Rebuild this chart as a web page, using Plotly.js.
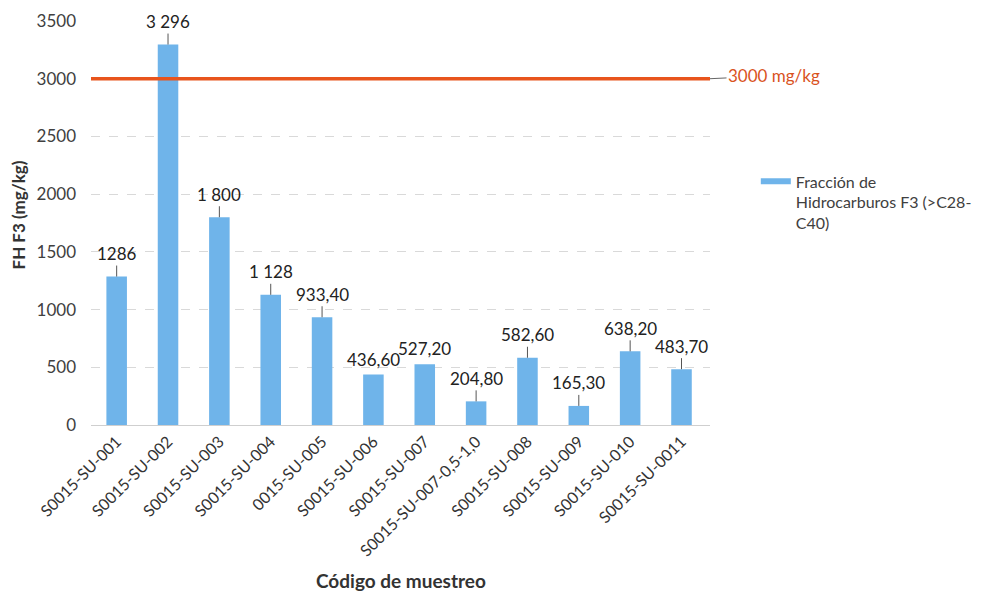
<!DOCTYPE html>
<html>
<head>
<meta charset="utf-8">
<script src="https://cdn.plot.ly/plotly-3.0.1.min.js"></script>
<style>
  html, body { margin: 0; padding: 0; background: #ffffff; }
  #chart { width: 989px; height: 593px; }
</style>
</head>
<body>
<div id="chart"></div>
<script>
const categories = [
  'S0015-SU-001', 'S0015-SU-002', 'S0015-SU-003', 'S0015-SU-004',
  '0015-SU-005', 'S0015-SU-006', 'S0015-SU-007', 'S0015-SU-007-0,5-1,0',
  'S0015-SU-008', 'S0015-SU-009', 'S0015-SU-010', 'S0015-SU-0011'
];
const values = [1286, 3296, 1800, 1128, 933.40, 436.60, 527.20, 204.80, 582.60, 165.30, 638.20, 483.70];
const valueLabels = ['1286', '3 296', '1 800', '1 128', '933,40', '436,60', '527,20', '204,80', '582,60', '165,30', '638,20', '483,70'];
const seriesName = 'Fracción de<br>Hidrocarburos F3 (>C28-<br>C40)';
const limitValue = 3000;
const limitLabel = '3000 mg/kg';
const yTickValues = [0, 500, 1000, 1500, 2000, 2500, 3000, 3500];
const yTitle = 'FH F3 (mg/kg)';
const xTitle = 'Código de muestreo';

const FONT = 'Lato, "Open Sans", sans-serif';
const BAR_COLOR = '#6FB4EA';
const LIMIT_COLOR = '#E8541C';
const unlabeledLeader = new Set([5, 6]);

const bars = {
  type: 'bar',
  x: categories,
  y: values,
  marker: { color: BAR_COLOR },
  showlegend: false,
  hoverinfo: 'x+y'
};

const legendEntry = {
  type: 'scatter',
  mode: 'lines',
  x: [null],
  y: [null],
  name: seriesName,
  line: { color: BAR_COLOR, width: 6 },
  showlegend: true,
  hoverinfo: 'skip'
};

const annotations = categories.map((c, i) => {
  const base = {
    x: c, y: values[i], xref: 'x', yref: 'y',
    text: valueLabels[i],
    font: { family: FONT, size: 17, color: '#222222' }
  };
  if (unlabeledLeader.has(i)) {
    return Object.assign(base, { showarrow: false, yanchor: 'bottom', yshift: 3 });
  }
  return Object.assign(base, {
    showarrow: true, arrowhead: 0, arrowwidth: 1, arrowcolor: '#555555',
    ax: 0, ay: -23, standoff: 0
  });
});

annotations.push({
  xref: 'paper', yref: 'y', x: 1, y: limitValue,
  text: limitLabel,
  showarrow: true, arrowhead: 0, arrowwidth: 1, arrowcolor: '#666666',
  ax: 64, ay: -3,
  font: { family: FONT, size: 17, color: '#D9531E' }
});

annotations.push({
  xref: 'paper', yref: 'paper', x: 0.5, y: -0.385,
  xanchor: 'center', yanchor: 'middle', showarrow: false,
  text: '<b>' + xTitle + '</b>',
  font: { family: FONT, size: 19, color: '#333333' }
});

annotations.push({
  xref: 'paper', yref: 'paper', x: -0.117, y: 0.52,
  xanchor: 'center', yanchor: 'middle', showarrow: false, textangle: -90,
  text: '<b>' + yTitle + '</b>',
  font: { family: FONT, size: 17, color: '#333333' }
});

const layout = {
  width: 989,
  height: 593,
  margin: { l: 91, r: 276, t: 21, b: 168 },
  paper_bgcolor: '#ffffff',
  plot_bgcolor: '#ffffff',
  font: { family: FONT, color: '#404040' },
  bargap: 0.6,
  xaxis: {
    type: 'category',
    tickangle: -45,
    tickfont: { family: FONT, size: 16, color: '#333333' },
    showgrid: false,
    showline: true,
    linecolor: '#cfcfcf',
    linewidth: 1,
    ticks: '',
    zeroline: false,
    fixedrange: true
  },
  yaxis: {
    range: [0, 3500],
    tickvals: yTickValues,
    ticktext: yTickValues.map(String),
    tickfont: { family: FONT, size: 17, color: '#404040' },
    showgrid: true,
    gridcolor: '#d9d9d9',
    griddash: 'dash',
    gridwidth: 1,
    zeroline: false,
    showline: false,
    ticks: '',
    ticklabelstandoff: 14,
    fixedrange: true
  },
  shapes: [{
    type: 'line', xref: 'paper', yref: 'y',
    x0: 0, x1: 1, y0: limitValue, y1: limitValue,
    line: { color: LIMIT_COLOR, width: 3.5 }
  }],
  annotations: annotations,
  legend: {
    x: 1.074, xanchor: 'left',
    y: 0.645, yanchor: 'top',
    valign: 'top',
    bgcolor: 'rgba(0,0,0,0)',
    font: { family: FONT, size: 16, color: '#404040' }
  },
  showlegend: true
};

Plotly.newPlot('chart', [bars, legendEntry], layout, { displayModeBar: false, staticPlot: true });
</script>
</body>
</html>
